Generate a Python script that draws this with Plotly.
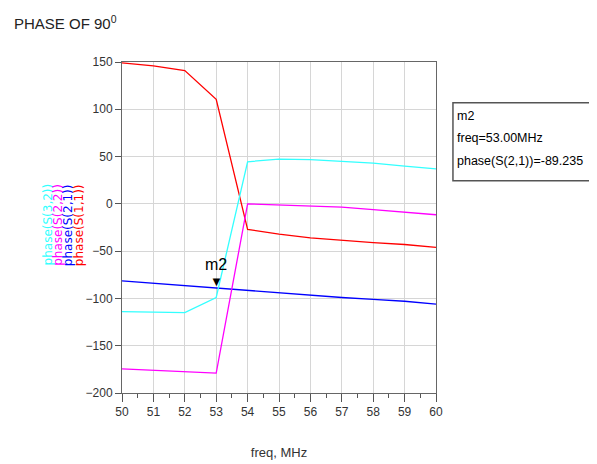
import plotly.graph_objects as go

freq = [50, 51, 52, 53, 54, 55, 56, 57, 58, 59, 60]
s11 = [149, 146, 141, 110.5, -27, -32, -36, -38.6, -41, -43, -46]
s21 = [-81.4, -84, -86.6, -89.235, -91.5, -93.7, -96.5, -99, -101, -103, -106]
s22 = [-174.5, -176, -177, -179, 0, -1, -2, -3.5, -6, -9, -11.5]
s32 = [-114, -114.7, -115, -99, 44.5, 47.4, 46.7, 45, 43, 40, 37]

marker_name = "m2"
marker_freq = 53.0
marker_val = -89.235

xticks = list(range(50, 61))
yticks = [150, 100, 50, 0, -50, -100, -150, -200]

FONT = "Liberation Sans Narrow, Arial Narrow, Liberation Sans, Arial, sans-serif"

fig = go.Figure()
series = [
    ("phase(S(1,1))", s11, "#ff0000"),
    ("phase(S(2,1))", s21, "#0000ff"),
    ("phase(S(2,2))", s22, "#ff00ff"),
    ("phase(S(3,2))", s32, "#33ffff"),
]
for name, vals, col in series:
    fig.add_trace(go.Scatter(x=freq, y=vals, mode="lines", name=name,
                             line=dict(color=col, width=1.3), showlegend=False))

axis_common = dict(showline=True, linecolor="#666666", linewidth=1, mirror=True,
                   gridcolor="#d6d6d6", gridwidth=1, zeroline=False,
                   ticks="outside", tickcolor="#555555",
                   tickfont=dict(family=FONT, size=12, color="#333333"))

fig.update_xaxes(range=[50, 60], tickvals=xticks, ticklen=8,
                 minor=dict(dtick=0.5, tick0=50, ticks="outside", ticklen=4,
                            tickcolor="#555555", showgrid=False),
                 title=dict(text="freq, MHz", font=dict(family=FONT, size=13, color="#333333"),
                            standoff=29),
                 **axis_common)
fig.update_yaxes(range=[-200, 150], tickvals=yticks, ticklen=6, **axis_common)

ann = []
# title
ann.append(dict(text="PHASE OF 90<sup>0</sup>", xref="paper", yref="paper",
                x=-0.35, y=1.12, xanchor="left", yanchor="middle", showarrow=False,
                font=dict(family=FONT, size=15, color="#222222")))
# rotated series labels
label_x = [(-0.237, "phase(S(3,2))", "#33ffff"), (-0.204, "phase(S(2,2))", "#ff00ff"),
           (-0.171, "phase(S(2,1))", "#0000ff"), (-0.136, "phase(S(1,1))", "#ff0000")]
for px, t, c in label_x:
    ann.append(dict(text=t, xref="paper", yref="paper", x=px, y=0.508,
                    xanchor="center", yanchor="middle", textangle=-90, showarrow=False,
                    font=dict(family="DejaVu Sans, Verdana, sans-serif", size=12, color=c)))
# marker triangle and label
ann.append(dict(text="▼", x=marker_freq, y=marker_val, xref="x", yref="y",
                xanchor="center", yanchor="bottom", showarrow=False, yshift=-4,
                font=dict(size=13, color="black")))
ann.append(dict(text=marker_name, x=marker_freq, y=marker_val, xref="x", yref="y",
                xanchor="center", yanchor="bottom", showarrow=False, yshift=13,
                font=dict(family=FONT, size=16, color="black")))
# marker readout box text
readout = [marker_name, "freq=%.2fMHz" % marker_freq, "phase(S(2,1))=%.3f" % marker_val]
for i, t in enumerate(readout):
    ann.append(dict(text=t, xref="paper", yref="paper", x=1.06, y=0.838 - i * 0.068,
                    xanchor="left", yanchor="middle", showarrow=False,
                    font=dict(family=FONT, size=12.5, color="black")))

fig.update_layout(
    width=597, height=464,
    margin=dict(l=114, r=169, t=54, b=79),
    paper_bgcolor="white", plot_bgcolor="white",
    annotations=ann,
    shapes=[dict(type="rect", xref="paper", yref="paper", x0=1.054, x1=1.6,
                 y0=0.641, y1=0.877, line=dict(color="#555555", width=1.5),
                 fillcolor="rgba(0,0,0,0)")],
)

fig.write_html("out.html")
